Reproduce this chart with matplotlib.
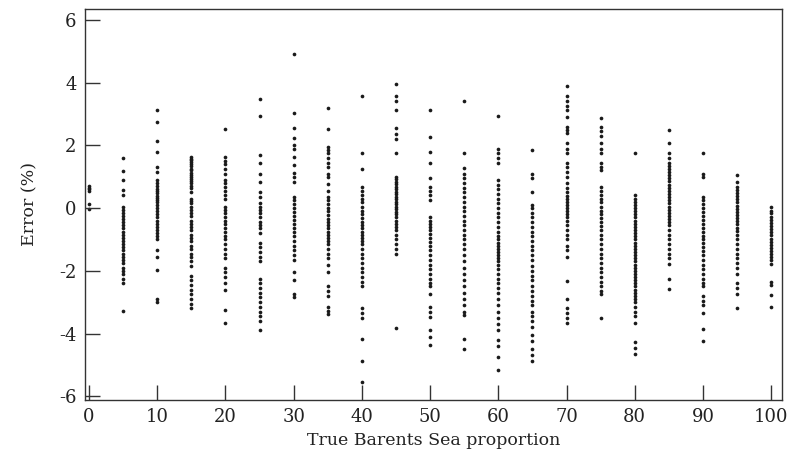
import matplotlib
matplotlib.use("Agg")
import matplotlib.pyplot as plt

plt.rcParams['font.family'] = ['DejaVu Serif']
plt.rcParams['axes.unicode_minus'] = False

proportions = [0, 5, 10, 15, 20, 25, 30, 35, 40, 45, 50, 55, 60, 65, 70, 75, 80, 85, 90, 95, 100]

err_00 = [0.7, 0.65, 0.6, 0.55, 0.13, -0.04]
err_05 = [1.59, 1.19, 0.9, 0.58, 0.42, 0.05, -0.05, -0.15, -0.25, -0.35, -0.45, -0.55, -0.65, -0.75,
          -0.85, -0.95, -1.05, -1.15, -1.25, -1.35, -1.45, -1.55, -1.65, -1.75, -1.9, -2.0, -2.1,
          -2.25, -2.4, -3.28]
err_10 = [3.13, 2.76, 2.14, 1.8, 1.32, 1.16, 0.9, 0.8, 0.7, 0.62, 0.55, 0.48, 0.4, 0.32, 0.25, 0.18,
          0.1, 0.0, -0.1, -0.2, -0.3, -0.4, -0.5, -0.6, -0.7, -0.8, -0.9, -1.0, -1.34, -1.55, -1.98,
          -2.9, -3.0]
err_15 = [1.64, 1.58, 1.52, 1.46, 1.4, 1.33, 1.26, 1.2, 1.13, 1.06, 1.0, 0.93, 0.86, 0.8, 0.72, 0.63,
          0.52, 0.3, 0.22, 0.15, 0.05, -0.05, -0.15, -0.25, -0.4, -0.5, -0.6, -0.7, -0.85, -0.95,
          -1.05, -1.2, -1.3, -1.45, -1.55, -1.7, -1.85, -2.15, -2.3, -2.45, -2.6, -2.75, -2.9,
          -3.05, -3.2]
err_20 = [2.51, 1.62, 1.5, 1.4, 1.25, 1.1, 0.9, 0.8, 0.68, 0.55, 0.42, 0.3, 0.04, -0.05, -0.15, -0.28,
          -0.4, -0.5, -0.62, -0.75, -0.9, -1.0, -1.15, -1.3, -1.45, -1.6, -1.9, -2.05, -2.2, -2.4,
          -2.6, -3.26, -3.68]
err_25 = [3.47, 2.95, 1.68, 1.43, 1.1, 0.84, 0.52, 0.36, 0.15, 0.05, -0.05, -0.15, -0.3, -0.45, -0.55,
          -0.65, -0.8, -1.1, -1.25, -1.4, -1.55, -1.7, -2.25, -2.4, -2.55, -2.7, -2.85, -3.0, -3.15,
          -3.3, -3.45, -3.6, -3.88]
err_30 = [4.92, 3.02, 2.55, 2.22, 2.0, 1.88, 1.64, 1.37, 1.13, 1.0, 0.84, 0.36, 0.25, 0.12, 0.0, -0.12,
          -0.25, -0.38, -0.5, -0.62, -0.75, -0.9, -1.05, -1.2, -1.35, -1.5, -1.66, -2.03, -2.3,
          -2.73, -2.83]
err_35 = [3.18, 2.51, 1.96, 1.85, 1.75, 1.6, 1.45, 1.3, 1.1, 1.0, 0.78, 0.55, 0.36, 0.25, 0.12, 0.0,
          -0.1, -0.22, -0.35, -0.45, -0.55, -0.65, -0.75, -0.85, -0.95, -1.05, -1.15, -1.3, -1.45,
          -1.6, -1.8, -2.05, -2.5, -2.65, -2.8, -3.15, -3.27, -3.37]
err_40 = [3.56, 1.75, 1.24, 0.68, 0.55, 0.42, 0.3, 0.18, 0.05, -0.08, -0.2, -0.32, -0.45, -0.55, -0.65,
          -0.75, -0.85, -0.95, -1.05, -1.15, -1.3, -1.45, -1.6, -1.75, -1.9, -2.05, -2.2, -2.35,
          -2.5, -3.2, -3.35, -3.5, -4.16, -4.86, -5.53]
err_45 = [3.95, 3.56, 3.4, 3.13, 2.55, 2.35, 2.2, 1.75, 1.0, 0.92, 0.84, 0.76, 0.68, 0.6, 0.52, 0.44,
          0.36, 0.28, 0.2, 0.12, 0.04, -0.04, -0.12, -0.2, -0.3, -0.4, -0.5, -0.6, -0.7, -0.85,
          -1.0, -1.15, -1.3, -1.45, -3.81]
err_50 = [3.13, 2.28, 1.8, 1.43, 0.95, 0.68, 0.55, 0.42, 0.26, -0.28, -0.4, -0.5, -0.6, -0.7, -0.82,
          -0.95, -1.08, -1.2, -1.35, -1.5, -1.65, -1.8, -1.95, -2.1, -2.25, -2.4, -2.5, -2.73,
          -3.15, -3.3, -3.47, -3.9, -4.1, -4.35]
err_55 = [3.4, 1.75, 1.27, 1.1, 0.95, 0.8, 0.65, 0.5, 0.35, 0.2, 0.05, -0.1, -0.25, -0.4, -0.55, -0.7,
          -0.85, -1.0, -1.15, -1.3, -1.5, -1.7, -1.9, -2.1, -2.3, -2.5, -2.7, -2.9, -3.1, -3.3,
          -3.42, -4.16, -4.48]
err_60 = [2.94, 1.9, 1.75, 1.6, 1.43, 0.9, 0.75, 0.6, 0.45, 0.3, 0.15, 0.0, -0.15, -0.3, -0.45, -0.6,
          -0.75, -0.9, -1.0, -1.1, -1.2, -1.3, -1.4, -1.5, -1.6, -1.7, -1.8, -1.95, -2.1, -2.25,
          -2.4, -2.55, -2.7, -2.9, -3.1, -3.3, -3.5, -3.7, -3.9, -4.2, -4.4, -4.75, -5.17]
err_65 = [1.85, 1.1, 0.95, 0.52, 0.1, 0.0, -0.15, -0.3, -0.45, -0.6, -0.75, -0.9, -1.05, -1.2, -1.35,
          -1.5, -1.65, -1.85, -2.0, -2.15, -2.3, -2.5, -2.65, -2.8, -2.95, -3.1, -3.3, -3.45, -3.6,
          -3.8, -4.05, -4.25, -4.5, -4.7, -4.86]
err_70 = [3.88, 3.56, 3.4, 3.25, 3.13, 2.92, 2.6, 2.5, 2.39, 2.07, 1.9, 1.75, 1.43, 1.3, 1.15, 1.0,
          0.79, 0.65, 0.5, 0.4, 0.3, 0.2, 0.1, 0.0, -0.1, -0.2, -0.3, -0.42, -0.55, -0.7, -0.85,
          -1.0, -1.2, -1.35, -1.55, -2.33, -2.91, -3.2, -3.35, -3.5, -3.68]
err_75 = [2.86, 2.6, 2.45, 2.3, 2.07, 1.9, 1.75, 1.43, 1.3, 1.21, 0.68, 0.55, 0.42, 0.3, 0.18, 0.05,
          -0.08, -0.2, -0.32, -0.45, -0.58, -0.7, -0.85, -1.0, -1.15, -1.3, -1.45, -1.6, -1.75,
          -1.9, -2.05, -2.2, -2.35, -2.5, -2.65, -2.73, -3.5]
err_80 = [1.75, 0.42, 0.3, 0.2, 0.1, 0.0, -0.1, -0.2, -0.3, -0.4, -0.5, -0.6, -0.7, -0.8, -0.9, -1.0,
          -1.1, -1.2, -1.3, -1.4, -1.5, -1.6, -1.7, -1.8, -1.9, -2.0, -2.1, -2.2, -2.3, -2.4, -2.5,
          -2.6, -2.7, -2.8, -2.9, -3.0, -3.15, -3.3, -3.45, -3.68, -4.27, -4.45, -4.64]
err_85 = [2.49, 2.07, 1.75, 1.6, 1.45, 1.35, 1.25, 1.15, 1.05, 0.95, 0.85, 0.75, 0.65, 0.55, 0.45,
          0.35, 0.25, 0.15, 0.05, -0.05, -0.15, -0.25, -0.35, -0.45, -0.55, -0.7, -0.85, -1.0,
          -1.15, -1.3, -1.45, -1.6, -1.77, -2.25, -2.57]
err_90 = [1.75, 1.1, 1.0, 0.36, 0.25, 0.12, 0.0, -0.12, -0.25, -0.38, -0.5, -0.62, -0.75, -0.88, -1.0,
          -1.12, -1.25, -1.38, -1.5, -1.65, -1.8, -1.95, -2.1, -2.25, -2.4, -2.5, -2.8, -2.95,
          -3.1, -3.36, -3.85, -4.24]
err_95 = [1.05, 0.84, 0.68, 0.58, 0.48, 0.38, 0.28, 0.18, 0.08, -0.02, -0.12, -0.22, -0.32, -0.42,
          -0.52, -0.62, -0.72, -0.85, -1.0, -1.15, -1.3, -1.45, -1.6, -1.75, -1.9, -2.1, -2.4,
          -2.55, -2.73, -3.2]
err_100 = [0.04, -0.08, -0.17, -0.27, -0.37, -0.47, -0.57, -0.67, -0.77, -0.87, -0.97, -1.07, -1.17,
           -1.27, -1.37, -1.47, -1.57, -1.67, -1.77, -2.35, -2.45, -2.78, -3.15]

errors = [err_00, err_05, err_10, err_15, err_20, err_25, err_30, err_35, err_40, err_45, err_50,
          err_55, err_60, err_65, err_70, err_75, err_80, err_85, err_90, err_95, err_100]

x_ticks = [0, 10, 20, 30, 40, 50, 60, 70, 80, 90, 100]
y_ticks = [-6, -4, -2, 0, 2, 4, 6]

fig = plt.figure(figsize=(7.9, 4.59), dpi=100)
ax = fig.add_axes([0.1076, 0.1285, 0.8823, 0.852])

for p, errs in zip(proportions, errors):
    ax.scatter([p] * len(errs), errs, s=7, marker='o', color='#1a1a1a', linewidths=0)

ax.set_xlim(-0.6, 101.6)
ax.set_ylim(-6.12, 6.35)
ax.set_xticks(x_ticks)
ax.set_yticks(y_ticks)
ax.tick_params(direction='in', length=10.5, width=1.0, labelsize=13, color='#333333',
               labelcolor='#222222', top=False, right=False, pad=6)
for s in ax.spines.values():
    s.set_linewidth(1.0)
    s.set_color('#333333')

ax.set_xlabel('True Barents Sea proportion', fontsize=12.5, color='#222222', labelpad=4)
ax.set_ylabel('Error (%)', fontsize=12.5, color='#222222', labelpad=15)

fig.savefig('out.png', dpi=100)
